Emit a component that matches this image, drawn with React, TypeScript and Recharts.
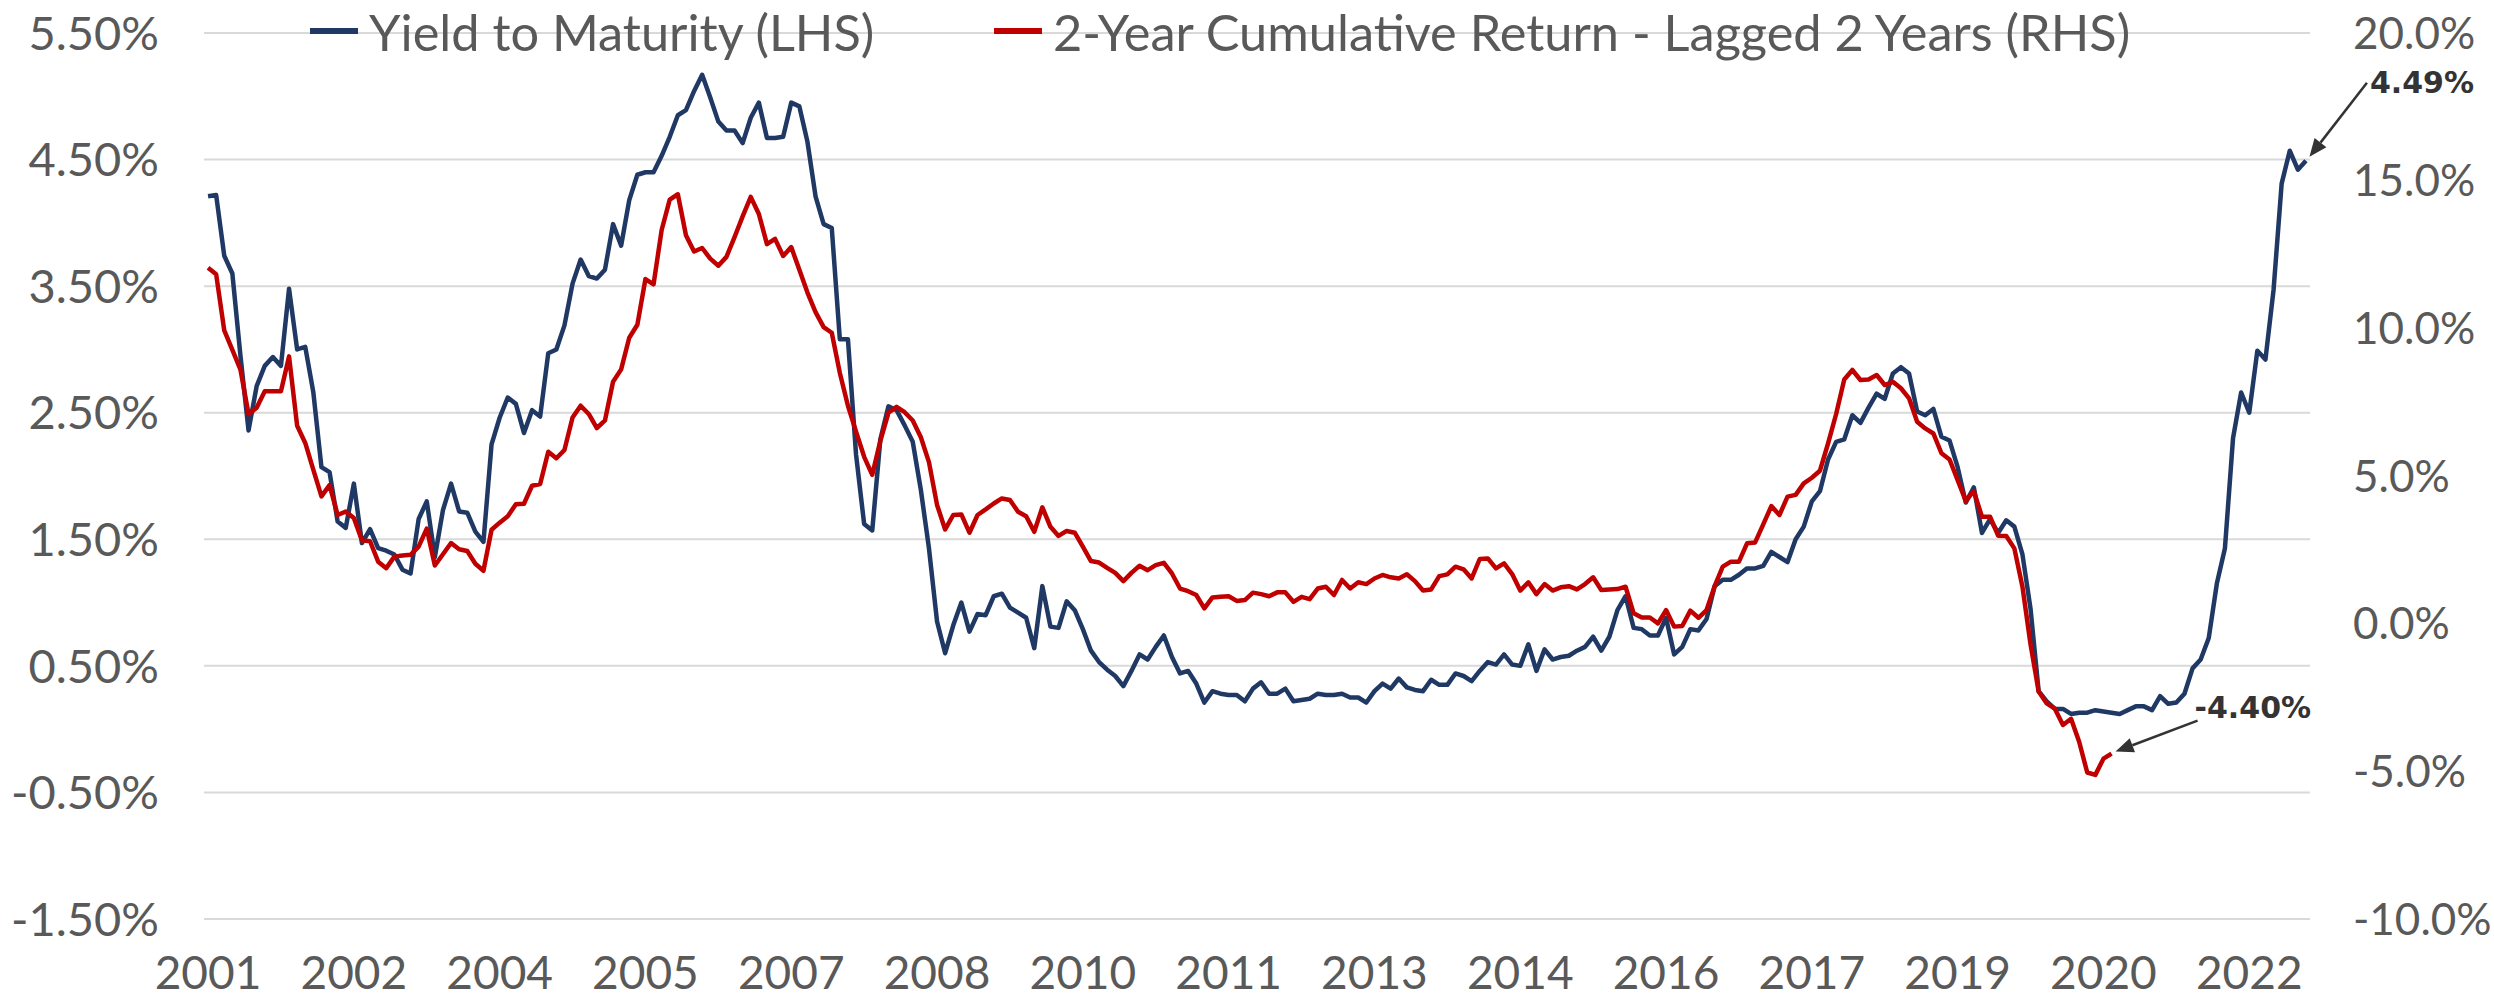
import { LineChart, Line, XAxis, YAxis, CartesianGrid, ReferenceDot } from 'recharts'

// monthly, Jan 2001 .. Aug 2022
const ytm = [
  4.21, 4.22, 3.74, 3.60, 2.95, 2.36, 2.71, 2.87, 2.94, 2.87,
  3.48, 3.00, 3.02, 2.66, 2.07, 2.03, 1.64, 1.59, 1.94, 1.47,
  1.58, 1.43, 1.41, 1.38, 1.26, 1.23, 1.66, 1.80, 1.36, 1.73,
  1.94, 1.72, 1.71, 1.56, 1.48, 2.25, 2.46, 2.62, 2.57, 2.34,
  2.52, 2.47, 2.97, 3.00, 3.19, 3.52, 3.71, 3.58, 3.56, 3.63,
  3.99, 3.82, 4.18, 4.38, 4.40, 4.40, 4.53, 4.68, 4.85, 4.89,
  5.04, 5.17, 4.99, 4.80, 4.73, 4.73, 4.63, 4.83, 4.95, 4.67,
  4.67, 4.68, 4.95, 4.92, 4.64, 4.21, 3.99, 3.96, 3.08, 3.08,
  2.17, 1.62, 1.57, 2.29, 2.55, 2.52, 2.40, 2.27, 1.89, 1.43,
  0.85, 0.60, 0.82, 1.00, 0.77, 0.91, 0.90, 1.05, 1.07, 0.96,
  0.92, 0.88, 0.64, 1.13, 0.81, 0.80, 1.01, 0.94, 0.79, 0.62,
  0.53, 0.47, 0.42, 0.34, 0.46, 0.59, 0.55, 0.65, 0.74, 0.57,
  0.44, 0.46, 0.36, 0.21, 0.30, 0.28, 0.27, 0.27, 0.22, 0.32,
  0.37, 0.28, 0.28, 0.32, 0.22, 0.23, 0.24, 0.28, 0.27, 0.27,
  0.28, 0.25, 0.25, 0.21, 0.30, 0.36, 0.32, 0.40, 0.33, 0.31,
  0.30, 0.39, 0.35, 0.35, 0.44, 0.42, 0.38, 0.46, 0.53, 0.51,
  0.59, 0.51, 0.50, 0.67, 0.46, 0.63, 0.55, 0.57, 0.58, 0.62,
  0.65, 0.73, 0.62, 0.73, 0.94, 1.05, 0.80, 0.79, 0.74, 0.74,
  0.88, 0.59, 0.65, 0.79, 0.78, 0.87, 1.13, 1.18, 1.18, 1.22,
  1.27, 1.27, 1.29, 1.40, 1.36, 1.32, 1.50, 1.60, 1.80, 1.88,
  2.13, 2.27, 2.29, 2.48, 2.42, 2.54, 2.65, 2.61, 2.81, 2.86,
  2.81, 2.51, 2.48, 2.53, 2.31, 2.28, 2.07, 1.79, 1.91, 1.55,
  1.66, 1.55, 1.65, 1.60, 1.38, 0.95, 0.30, 0.22, 0.16, 0.16,
  0.12, 0.13, 0.13, 0.15, 0.14, 0.13, 0.12, 0.15, 0.18, 0.18,
  0.15, 0.26, 0.20, 0.21, 0.28, 0.48, 0.55, 0.72, 1.15, 1.43,
  2.30, 2.66, 2.50, 2.99, 2.92, 3.47, 4.31, 4.57, 4.42, 4.49,
]

// 2y forward cumulative return, Jan 2001 .. Aug 2020
const ret2y = [
  12.05, 11.83, 9.93, 9.27, 8.60, 7.09, 7.31, 7.87, 7.87, 7.87,
  9.05, 6.70, 6.12, 5.21, 4.31, 4.69, 3.68, 3.80, 3.58, 2.82,
  2.79, 2.10, 1.88, 2.27, 2.31, 2.33, 2.61, 3.22, 1.97, 2.35,
  2.73, 2.52, 2.46, 2.03, 1.79, 3.18, 3.42, 3.64, 4.04, 4.06,
  4.67, 4.73, 5.82, 5.60, 5.88, 6.98, 7.38, 7.10, 6.62, 6.88,
  8.19, 8.61, 9.68, 10.12, 11.67, 11.49, 13.33, 14.36, 14.54, 13.15,
  12.60, 12.72, 12.36, 12.12, 12.42, 13.09, 13.79, 14.45, 13.87, 12.85,
  13.03, 12.45, 12.75, 11.98, 11.21, 10.55, 10.04, 9.85, 8.49, 7.38,
  6.50, 5.65, 5.04, 6.19, 7.14, 7.34, 7.16, 6.88, 6.31, 5.47,
  4.02, 3.19, 3.68, 3.70, 3.08, 3.68, 3.87, 4.07, 4.24, 4.19,
  3.79, 3.64, 3.11, 3.94, 3.28, 2.97, 3.14, 3.08, 2.61, 2.12,
  2.07, 1.89, 1.72, 1.44, 1.72, 1.96, 1.81, 1.98, 2.06, 1.70,
  1.19, 1.10, 0.97, 0.52, 0.89, 0.91, 0.93, 0.77, 0.80, 1.05,
  1.00, 0.93, 1.06, 1.06, 0.74, 0.91, 0.83, 1.19, 1.25, 0.97,
  1.48, 1.19, 1.40, 1.34, 1.53, 1.65, 1.57, 1.53, 1.67, 1.44,
  1.12, 1.16, 1.61, 1.67, 1.93, 1.84, 1.53, 2.19, 2.21, 1.87,
  2.04, 1.68, 1.12, 1.40, 1.00, 1.34, 1.12, 1.23, 1.27, 1.16,
  1.34, 1.57, 1.14, 1.16, 1.17, 1.25, 0.35, 0.21, 0.21, 0.01,
  0.46, -0.10, -0.08, 0.44, 0.20, 0.46, 1.27, 1.93, 2.10, 2.10,
  2.72, 2.75, 3.36, 3.98, 3.68, 4.30, 4.36, 4.75, 4.94, 5.18,
  6.10, 7.10, 8.27, 8.59, 8.25, 8.27, 8.42, 8.08, 8.19, 7.97,
  7.63, 6.84, 6.61, 6.44, 5.77, 5.56, 4.86, 4.16, 4.49, 3.62,
  3.62, 2.98, 2.97, 2.55, 1.25, -0.70, -2.30, -2.70, -2.88, -3.43,
  -3.22, -4.00, -5.04, -5.12, -4.57, -4.40,
]

const xLabels = ['2001', '2002', '2004', '2005', '2007', '2008', '2010', '2011', '2013', '2014', '2016', '2017', '2019', '2020', '2022']
const leftTicks = [-1.5, -0.5, 0.5, 1.5, 2.5, 3.5, 4.5, 5.5]
const rightTicks = [-10, -5, 0, 5, 10, 15, 20]

const BLUE = '#1F3864'
const RED = '#C00000'
const GREY = '#595959'
const FONT = 'Lato, "Open Sans", sans-serif'
const LABEL_STEP = 18

const rows = ytm.map((y, i) => ({ i, ytm: y, ret: i < ret2y.length ? ret2y[i] : null }))
const tickIdx = xLabels.map((_, k) => k * LABEL_STEP)

function calloutShape(dx: number, dy: number, tx: number, ty: number, text: string, tipDx: number, tipDy: number) {
  return (props: { cx?: number; cy?: number }) => {
    const cx = props.cx ?? 0
    const cy = props.cy ?? 0
    const x1 = cx + dx, y1 = cy + dy
    const x2 = cx + tipDx, y2 = cy + tipDy
    const ang = Math.atan2(y2 - y1, x2 - x1)
    const len = 18, half = 7.5
    const bx = x2 - len * Math.cos(ang), by = y2 - len * Math.sin(ang)
    const p1 = `${x2},${y2}`
    const p2 = `${bx - half * Math.sin(ang)},${by + half * Math.cos(ang)}`
    const p3 = `${bx + half * Math.sin(ang)},${by - half * Math.cos(ang)}`
    return (
      <g>
        <line x1={x1} y1={y1} x2={bx} y2={by} stroke="#333" strokeWidth={2.5} />
        <polygon points={`${p1} ${p2} ${p3}`} fill="#333" />
        <text x={cx + tx} y={cy + ty} dominantBaseline="central" fontFamily='"DejaVu Sans", sans-serif'
          fontWeight={700} fontSize={30} fill="#333">{text}</text>
      </g>
    )
  }
}

export default function App() {
  return (
    <div style={{ position: 'absolute', left: 0, top: 0, width: 2494, height: 1003, background: '#fff' }}>
      <LineChart width={2494} height={1003} data={rows} margin={{ top: 33, right: 0, bottom: 0, left: 0 }}>
        <CartesianGrid yAxisId="l" vertical={false} stroke="#D9D9D9" strokeWidth={2} />
        <XAxis
          dataKey="i"
          type="number"
          domain={[-0.5, ytm.length - 0.5]}
          ticks={tickIdx}
          interval={0}
          tickFormatter={(v: number) => xLabels[Math.round(v / LABEL_STEP)]}
          axisLine={false}
          tickLine={false}
          tickSize={0}
          tickMargin={37}
          height={84}
          tick={{ fontFamily: FONT, fontSize: 46, fill: GREY }}
        />
        <YAxis
          yAxisId="l"
          orientation="left"
          domain={[-1.5, 5.5]}
          ticks={leftTicks}
          interval={0}
          tickFormatter={(v: number) => `${v.toFixed(2)}%`}
          axisLine={false}
          tickLine={false}
          tickSize={0}
          tickMargin={45}
          width={204}
          tick={{ fontFamily: FONT, fontSize: 47, fill: GREY }}
        />
        <YAxis
          yAxisId="r"
          orientation="right"
          domain={[-10, 20]}
          ticks={rightTicks}
          interval={0}
          tickFormatter={(v: number) => `${v.toFixed(1)}%`}
          axisLine={false}
          tickLine={false}
          tickSize={0}
          tickMargin={43}
          width={184}
          tick={{ fontFamily: FONT, fontSize: 44, fill: GREY, textAnchor: 'start' }}
        />
        <Line yAxisId="l" dataKey="ytm" stroke={BLUE} strokeWidth={4.5} dot={false} strokeLinejoin="round" isAnimationActive={false} />
        <Line yAxisId="r" dataKey="ret" stroke={RED} strokeWidth={4.5} dot={false} strokeLinejoin="round" isAnimationActive={false} />
        <ReferenceDot
          yAxisId="l"
          x={ytm.length - 1}
          y={ytm[ytm.length - 1]}
          shape={calloutShape(61, -78, 64, -78, `${ytm[ytm.length - 1].toFixed(2)}%`, 3.5, -4)}
        />
        <ReferenceDot
          yAxisId="r"
          x={ret2y.length - 1}
          y={ret2y[ret2y.length - 1]}
          shape={calloutShape(86, -33, 83, -46, `${ret2y[ret2y.length - 1].toFixed(2)}%`, 4, -2)}
        />
      </LineChart>
      <svg width={2494} height={80} style={{ position: 'absolute', left: 0, top: 0, pointerEvents: 'none' }}>
        <line x1={310} y1={31} x2={358} y2={31} stroke={BLUE} strokeWidth={6} />
        <text x={369} y={31} dominantBaseline="central" fontFamily={FONT} fontSize={50.5} fill={GREY}>Yield to Maturity (LHS)</text>
        <line x1={994} y1={31} x2={1042} y2={31} stroke={RED} strokeWidth={6} />
        <text x={1053} y={31} dominantBaseline="central" fontFamily={FONT} fontSize={50.5} fill={GREY}>2-Year Cumulative Return - Lagged 2 Years (RHS)</text>
      </svg>
    </div>
  )
}
